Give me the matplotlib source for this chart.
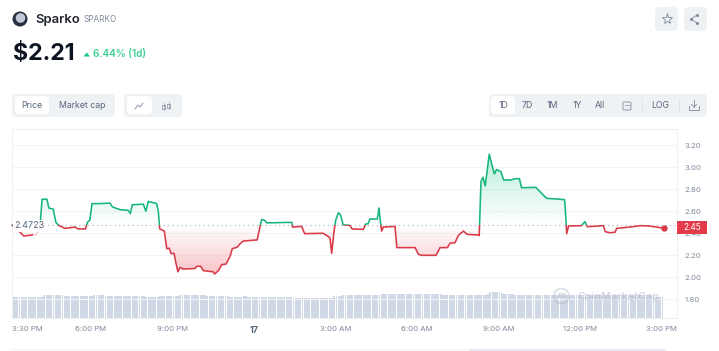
import numpy as np
import matplotlib
matplotlib.use("Agg")
import matplotlib.pyplot as plt
from matplotlib.patches import FancyBboxPatch, PathPatch, Circle, Rectangle
from matplotlib.path import Path
from matplotlib.colors import to_rgb
from matplotlib.transforms import ScaledTranslation

plt.rcParams['font.family'] = ['Inter', 'DejaVu Sans']

# hours relative to midnight of the 17th
HOURS = [-8.90, -8.61, -8.47, -8.18, -8.02, -7.88, -7.85, -7.80, -7.62, -7.55, -7.39, -7.29, -7.17, -6.96,
         -6.59, -6.47, -6.20, -6.13, -6.04, -5.96, -5.67, -5.30, -5.21, -4.93, -4.63, -4.55, -4.48, -4.07,
         -3.98, -3.89, -3.58, -3.52, -3.47, -3.30, -3.21, -3.12, -3.05, -2.94, -2.88, -2.80, -2.72, -2.60,
         -2.17, -2.11, -1.96, -1.86, -1.50, -1.45, -1.31, -1.19, -1.03, -0.88, -0.80, -0.61, -0.515, -0.39,
         0.12, 0.22, 0.28, 0.38, 0.47, 1.39, 1.42, 1.755, 1.865, 2.55, 2.74, 2.80, 2.86, 2.945, 3.01, 3.105,
         3.19, 3.28, 3.53, 3.61, 4.025, 4.11, 4.20, 4.27, 4.54, 4.60, 4.64, 4.70, 4.76, 5.19, 5.26, 5.93,
         6.05, 6.17, 6.70, 6.85, 7.12, 7.215, 7.40, 7.52, 7.71, 7.85, 8.27, 8.29, 8.30, 8.355, 8.43, 8.51,
         8.66, 8.76, 8.85, 8.93, 9.09, 9.19, 9.45, 9.61, 9.77, 9.85, 10.37, 10.59, 10.77, 11.26, 11.435,
         11.48, 11.51, 11.58, 12.06, 12.18, 12.27, 12.86, 12.93, 13.10, 13.29, 13.35, 13.84, 14.21, 14.51,
         14.82, 15.10]
PRICES = [2.475, 2.41, 2.375, 2.385, 2.39, 2.44, 2.54, 2.71, 2.71, 2.63, 2.62, 2.50, 2.47, 2.445,
          2.457, 2.44, 2.44, 2.50, 2.52, 2.67, 2.67, 2.675, 2.64, 2.615, 2.61, 2.58, 2.66, 2.665,
          2.60, 2.69, 2.67, 2.60, 2.44, 2.42, 2.26, 2.265, 2.215, 2.218, 2.14, 2.05, 2.09, 2.075,
          2.08, 2.10, 2.10, 2.06, 2.05, 2.03, 2.06, 2.115, 2.12, 2.19, 2.26, 2.275, 2.305, 2.33,
          2.34, 2.46, 2.525, 2.52, 2.495, 2.50, 2.457, 2.463, 2.397, 2.40, 2.37, 2.354, 2.218, 2.415, 2.52, 2.588,
          2.566, 2.478, 2.472, 2.44, 2.436, 2.484, 2.487, 2.53, 2.53, 2.63, 2.536, 2.42, 2.457, 2.463, 2.27, 2.27,
          2.21, 2.20, 2.20, 2.27, 2.27, 2.31, 2.315, 2.38, 2.42, 2.39, 2.385, 2.38, 2.46, 2.87, 2.91, 2.83,
          3.12, 3.02, 2.94, 2.98, 2.96, 2.885, 2.885, 2.897, 2.897, 2.815, 2.818, 2.763, 2.718, 2.71, 2.705,
          2.536, 2.397, 2.466, 2.47, 2.506, 2.46, 2.47, 2.415, 2.405, 2.41, 2.445, 2.457, 2.47, 2.467,
          2.457, 2.445]
BASELINE = 2.4723

# one 5-minute volume bar per entry, twelve to the hour (arbitrary units)
FIRST_BAR_HOUR = -8.88
VOLUMES = [
    20.7, 20.7, 20.7, 20.7, 20.7, 20.7, 20.7, 20.7, 20.7, 20.7, 20.7, 20.7,
    20.7, 20.7, 22.7, 22.7, 22.7, 22.7, 22.7, 22.7, 22.7, 22.7, 22.7, 22.4,
    21.7, 21.7, 21.7, 21.7, 21.7, 21.7, 21.7, 21.7, 21.7, 21.7, 21.7, 21.7,
    22.7, 22.7, 22.7, 22.7, 22.7, 21.7, 21.7, 21.7, 21.7, 21.7, 21.7, 21.7,
    21.7, 21.7, 21.7, 21.7, 21.7, 21.7, 21.7, 21.7, 21.7, 21.7, 21.7, 20.7,
    20.7, 20.7, 20.7, 20.7, 20.7, 21.7, 21.7, 21.7, 21.7, 21.7, 21.7, 21.7,
    21.7, 21.7, 22.7, 22.7, 22.7, 22.7, 22.7, 22.7, 22.7, 22.7, 22.7, 22.7,
    22.7, 22.7, 21.7, 21.7, 21.7, 21.7, 21.7, 21.7, 21.7, 21.7, 21.7, 21.7,
    20.9, 20.9, 20.9, 21.5, 21.5, 21.5, 21.7, 21.7, 21.5, 20.7, 20.7, 20.7,
    20.7, 20.7, 20.7, 20.7, 20.7, 20.7, 20.7, 20.7, 20.7, 20.7, 20.7, 20.7,
    20.7, 20.7, 20.7, 20.7, 19.7, 19.7, 19.7, 19.7, 19.7, 20.3, 20.3, 20.3,
    20.3, 20.3, 20.3, 20.3, 20.3, 20.3, 20.3, 20.3, 20.3, 20.3, 21.7, 21.7,
    21.7, 21.7, 22.7, 22.7, 22.7, 22.7, 22.7, 22.7, 22.7, 22.7, 22.7, 22.7,
    22.7, 22.7, 22.7, 22.7, 22.7, 22.7, 22.7, 24.3, 24.3, 24.3, 24.3, 24.3,
    24.3, 24.3, 24.3, 24.3, 24.3, 24.3, 24.3, 24.3, 24.3, 24.3, 24.3, 24.3,
    24.3, 24.3, 24.3, 24.3, 24.3, 24.3, 24.3, 24.3, 24.3, 23.8, 23.3, 23.3,
    23.3, 23.3, 23.3, 23.3, 23.3, 23.3, 23.3, 23.3, 23.3, 23.3, 23.3, 23.3,
    22.7, 22.7, 22.7, 23.3, 23.3, 23.3, 24.5, 26.0, 26.3, 26.3, 26.3, 26.3,
    25.0, 23.7, 23.7, 23.7, 23.7, 23.7, 22.7, 22.7, 22.7, 22.7, 22.7, 22.7,
    22.7, 22.7, 22.7, 22.7, 22.7, 22.7, 22.7, 22.7, 22.7, 22.7, 22.7, 22.7,
    22.7, 22.7, 22.7, 22.7, 22.7, 22.7, 22.7, 22.7, 22.7, 22.7, 22.7, 22.7,
    22.7, 22.7, 22.7, 22.7, 22.7, 22.7, 22.7, 22.7, 22.7, 22.7, 22.7, 22.7,
    22.7, 22.7, 22.7, 22.7, 22.7, 22.7, 22.7, 22.7, 22.7, 22.7, 22.7, 22.7,
    22.7, 22.7, 22.7, 22.7, 22.7, 22.7, 22.7, 22.7, 20.7, 20.7, 20.7, 20.7,
]
Y_TICKS = [1.8, 2.0, 2.2, 2.4, 2.6, 2.8, 3.0, 3.2]
X_TICKS = [-8.5, -6, -3, 0, 3, 6, 9, 12, 15]
X_LABELS = ['3:30 PM', '6:00 PM', '9:00 PM', '17', '3:00 AM', '6:00 AM', '9:00 AM', '12:00 PM', '3:00 PM']

GREEN = '#16b67c'
RED = '#d93a48'
GREY = '#808a9d'
DARK = '#0d1421'
CHIP = '#eff2f5'
W, H = 719, 351

fig = plt.figure(figsize=(W / 100, H / 100), dpi=100, facecolor='white')
ax = fig.add_axes([12 / W, 1 - 318 / H, (677 - 12) / W, (318 - 129.5) / H])

# volume on its own scale, behind the price axes
vax = ax.twinx()
vax.set_ylim(0, 188.5)
vax.axis('off')
vax.set_zorder(0)
ax.set_zorder(1)
ax.patch.set_visible(False)
bar_hours = FIRST_BAR_HOUR + np.arange(len(VOLUMES)) / 12
vax.bar(bar_hours, VOLUMES, width=0.84 / 12, color='#d0d7e5', lw=0, zorder=2)

t = np.array(HOURS)
p = np.array(PRICES)

# grid and frame
ax.yaxis.tick_right()
ax.set_yticks(Y_TICKS, [f'{v:.2f}' for v in Y_TICKS])
ax.set_xticks(X_TICKS, X_LABELS)
ax.grid(axis='y', color='#f3f4f7', lw=0.8)
ax.set_axisbelow(True)
ax.tick_params(axis='y', length=0, pad=5.5, labelsize=5.6, labelcolor=GREY)
ax.tick_params(axis='x', length=1.5, width=0.5, color='#e6e9ef', pad=4.5, labelsize=5.6, labelcolor=GREY)
for s in ax.spines.values():
    s.set_color('#eff1f5')
    s.set_linewidth(0.8)
labels = ax.get_xticklabels()
labels[0].set_transform(labels[0].get_transform() + ScaledTranslation(4.2 / 100, 0, fig.dpi_scale_trans))
labels[3].set_fontweight('bold')
labels[3].set_color('#58667e')
labels[3].set_fontsize(6.4)

# gradient fills between the line and the open price
poly = Path(np.vstack([np.column_stack([t, p]), [t[-1], BASELINE], [t[0], BASELINE], [t[0], p[0]]]))


def gradient(color, v_far, max_alpha):
    r, g, b = to_rgb(color)
    n = 128
    arr = np.zeros((n, 2, 4))
    arr[..., 0], arr[..., 1], arr[..., 2] = r, g, b
    alpha = np.linspace(max_alpha, 0, n)[:, None]
    if v_far < BASELINE:
        alpha = alpha[::-1]
    arr[..., 3] = alpha
    lo, hi = sorted([v_far, BASELINE])
    im = ax.imshow(arr, extent=(t[0], t[-1], lo, hi), origin='upper', aspect='auto', zorder=2,
                   interpolation='bilinear')
    clip = PathPatch(poly, transform=ax.transData, fc='none', ec='none')
    ax.add_patch(clip)
    im.set_clip_path(clip)


gradient('#16c784', p.max(), 0.30)
gradient('#ea3943', p.min(), 0.30)
ax.set_xlim(-8.906, 15.57)
ax.set_ylim(1.630, 3.344)
vax.set_xlim(-8.906, 15.57)

# dotted open-price line
ax.axhline(BASELINE, color='#a6b0c3', lw=0.8, ls=(0, (1, 3)), zorder=3)

# line split at the open price
for col, lo, hi in [(GREEN, BASELINE, 4), (RED, 0, BASELINE)]:
    ln, = ax.plot(t, p, color=col, lw=1.15, zorder=4, solid_joinstyle='round')
    ln.set_clip_path(Rectangle((-20, lo), 60, hi - lo, transform=ax.transData))
ax.plot(t[-1], p[-1], 'o', color=RED, ms=4.6, mew=0, zorder=5)

# ---- interface chrome in pixel coordinates ----
ov = fig.add_axes([0, 0, 1, 1])
ov.set_xlim(0, W)
ov.set_ylim(H, 0)
ov.axis('off')
ov.patch.set_alpha(0)
ov.set_zorder(3)


def box(x0, y0, x1, y1, fc, r=4):
    ov.add_patch(FancyBboxPatch((x0 + r, y0 + r), x1 - x0 - 2 * r, y1 - y0 - 2 * r,
                                boxstyle=f'round,pad={r},rounding_size={r}', fc=fc, ec='none'))


def txt(x, y, s, size, color=GREY, ha='center', weight='normal', **kw):
    return ov.text(x, y, s, fontsize=size, color=color, ha=ha, va='center', fontweight=weight, **kw)


# header
ov.add_patch(Circle((20, 19), 7.5, fc='#2a2f42', ec='none'))
ov.add_patch(Circle((20.5, 18), 4.8, fc='#c3c9da', ec='none'))
txt(35.5, 19.5, 'Sparko', 9.4, '#222531', 'left', 'semibold')
txt(83.5, 19.7, 'SPARKO', 5.9, GREY, 'left')
txt(12.5, 54, '$2.21', 16.6, DARK, 'left', 'bold')
ov.add_patch(plt.Polygon([[83.5, 56.5], [90, 56.5], [86.7, 52.5]], fc='#16c784', ec='none'))
txt(93, 54, '6.44% (1d)', 7.2, '#3ccf91', 'left', 'semibold')

# top right buttons
box(655, 7, 678, 31, CHIP, 5)
box(684, 7, 707, 31, CHIP, 5)
ov.plot([666.5], [19], marker='*', ms=8, mfc='none', mec='#808a9d', mew=0.6)
ov.plot([697, 691, 697], [15, 19, 23], color='#808a9d', lw=0.6, marker='o', ms=1.2)

# left selectors
box(12, 94, 115, 117, CHIP)
box(15, 96, 49, 114, 'white')
txt(32, 105, 'Price', 6.3, '#58667e')
txt(82, 105, 'Market cap', 6.3, '#58667e')
box(124, 94, 182, 117, CHIP)
box(127, 96, 152, 114, 'white')
ov.plot([135, 138, 140, 143], [109, 105, 107, 103], color='#808a9d', lw=0.6)
for cx, top, bot in [(163.5, 103, 110), (168.5, 102, 109)]:
    ov.add_patch(Rectangle((cx - 1.3, top + 2), 2.6, bot - top - 3, fc='none', ec='#808a9d', lw=0.5))
    ov.plot([cx, cx], [top, bot], color='#808a9d', lw=0.4)

# right selectors
box(489, 94, 707, 117, CHIP)
box(491, 96, 515, 114, 'white')
for cx, s in [(503, '1D'), (527.5, '7D'), (552, '1M'), (577, '1Y'), (600, 'All'), (660, 'LOG')]:
    txt(cx, 105, s, 6.3, '#58667e')
ov.add_patch(FancyBboxPatch((623.5, 102.5), 7, 7, boxstyle='round,pad=0.5,rounding_size=1.2', fc='none',
                            ec='#808a9d', lw=0.6))
ov.plot([625, 629.5], [105, 105], color='#808a9d', lw=0.5)
for sx in (642, 679):
    ov.plot([sx, sx], [99, 111], color='#dfe3ea', lw=0.7)
ov.plot([689, 689, 699, 699], [106, 109.5, 109.5, 106], color='#808a9d', lw=0.6)
ov.plot([694, 694], [100, 107], color='#808a9d', lw=0.6)
ov.plot([691.5, 694, 696.5], [104.5, 107, 104.5], color='#808a9d', lw=0.6)

# the line fades behind the open-price label, which has a soft white halo
ov.add_patch(Rectangle((12.5, 222), 8, 10, fc='white', ec='none', alpha=0.8))
ov.add_patch(Rectangle((33, 229), 8, 9, fc='white', ec='none', alpha=0.75))
txt(29.5, 226, '2.4723', 6.5, '#58667e',
    bbox=dict(fc='white', ec='none', alpha=0.85, pad=1.0))

# last price tag
ov.add_patch(Rectangle((677, 221), 30, 13, fc='#e33b49', ec='none'))
txt(692, 227.5, '2.45', 6.0, 'white')

# watermark
ov.add_patch(Circle((561.5, 296), 7.5, fc='none', ec='#aeb6c6', lw=1.1, alpha=0.5))
txt(561.5, 296, 'm', 6.5, '#aeb6c6', alpha=0.6, weight='bold')
txt(577, 296.5, 'CoinMarketCap', 7.8, '#aeb6c6', 'left', 'semibold', alpha=0.5)

# section rules at the bottom edge
ov.plot([12, 470], [349, 349], color='#f0f2f5', lw=0.8)
ov.plot([470, 665], [349.5, 349.5], color='#e8ebf3', lw=1.4)

fig.savefig('out.png', dpi=100)
